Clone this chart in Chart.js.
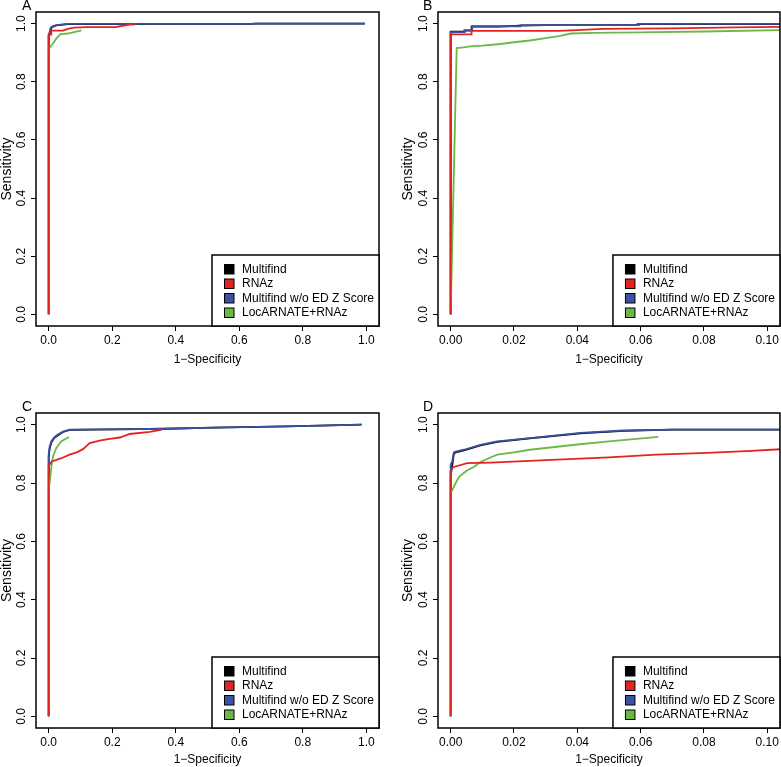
<!DOCTYPE html>
<html>
<head>
<meta charset="utf-8">
<script src="https://cdn.jsdelivr.net/npm/chart.js@4.4.0/dist/chart.umd.min.js"></script>
<style>
  body { margin: 0; background: #fff; width: 781px; height: 767px; position: relative; overflow: hidden; }
  canvas { position: absolute; }
</style>
</head>
<body>
<canvas id="chartA" width="390" height="380" style="left:0;top:0"></canvas>
<canvas id="chartB" width="391" height="380" style="left:390px;top:0"></canvas>
<canvas id="chartC" width="390" height="387" style="left:0;top:380px"></canvas>
<canvas id="chartD" width="391" height="387" style="left:390px;top:380px"></canvas>
<script>
// legend names + colours (legend order)
var seriesNames = ["Multifind", "RNAz", "Multifind w/o ED Z Score", "LocARNATE+RNAz"];
var seriesColors = ["#000000", "#e3231f", "#3a52a0", "#6bb846"];

var xTicksFull = [0, 0.2, 0.4, 0.6, 0.8, 1.0];
var xLabelsFull = ["0.0", "0.2", "0.4", "0.6", "0.8", "1.0"];
var xTicksZoom = [0, 0.02, 0.04, 0.06, 0.08, 0.10];
var xLabelsZoom = ["0.00", "0.02", "0.04", "0.06", "0.08", "0.10"];
var yTicks = [0, 0.2, 0.4, 0.6, 0.8, 1.0];
var yLabels = ["0.0", "0.2", "0.4", "0.6", "0.8", "1.0"];

// [1-specificity, sensitivity]
// panel A
var multifindA = [[0,0],[0,0.958],[0.003,0.966],[0.006,0.98],[0.01,0.988],[0.024,0.994],[0.06,0.998],[0.64,0.999],[0.65,1.0],[0.995,1.0]];
var rnazA = [[0,0],[0,0.962],[0.008,0.962],[0.008,0.976],[0.045,0.976],[0.06,0.982],[0.08,0.986],[0.12,0.988],[0.21,0.988],[0.255,0.997],[0.27,0.997]];
var noZA = [[0,0],[0,0.96],[0.003,0.97],[0.006,0.985],[0.01,0.99],[0.024,0.995],[0.06,0.999],[0.64,0.999],[0.65,1.0],[0.995,1.0]];
var locA = [[0,0],[0,0.918],[0.004,0.918],[0.012,0.93],[0.025,0.95],[0.037,0.964],[0.06,0.966],[0.103,0.977]];
// panel B
var multifindB = [[0,0],[0,0.972],[0.0044,0.972],[0.0044,0.976],[0.0066,0.976],[0.0066,0.99],[0.015,0.99],[0.022,0.993],[0.03,0.995],[0.059,0.995],[0.06,0.998],[0.106,0.998]];
var rnazB = [[0,0],[0,0.963],[0.0066,0.963],[0.0066,0.975],[0.034,0.975],[0.04,0.978],[0.048,0.982],[0.07,0.984],[0.09,0.987],[0.106,0.989]];
var noZB = [[0,0],[0,0.971],[0.0044,0.971],[0.0044,0.978],[0.0068,0.978],[0.0068,0.991],[0.022,0.991],[0.022,0.995],[0.059,0.995],[0.059,0.999],[0.106,0.999]];
var locB = [[0,0],[0.0019,0.916],[0.004,0.918],[0.0063,0.922],[0.01,0.924],[0.0157,0.93],[0.02,0.936],[0.025,0.942],[0.03,0.95],[0.0346,0.958],[0.038,0.966],[0.045,0.968],[0.06,0.97],[0.08,0.973],[0.106,0.978]];
// panel C
var multifindC = [[0,0],[0,0.89],[0.003,0.918],[0.0085,0.94],[0.018,0.955],[0.029,0.964],[0.045,0.975],[0.066,0.982],[0.2,0.984],[0.37,0.986],[0.52,0.99],[0.75,0.994],[0.985,1.0]];
var rnazC = [[0,0],[0,0.859],[0.01,0.874],[0.04,0.885],[0.066,0.897],[0.09,0.906],[0.108,0.916],[0.129,0.937],[0.16,0.945],[0.192,0.951],[0.224,0.956],[0.255,0.968],[0.318,0.975],[0.357,0.983]];
var noZC = [[0,0],[0,0.9],[0.003,0.925],[0.0085,0.943],[0.018,0.957],[0.029,0.966],[0.045,0.976],[0.066,0.983],[0.2,0.984],[0.37,0.986],[0.52,0.99],[0.75,0.994],[0.985,1.0]];
var locC = [[0,0],[0,0.777],[0.005,0.822],[0.009,0.86],[0.0136,0.891],[0.024,0.92],[0.04,0.943],[0.064,0.958]];
// panel D
var multifindD = [[0,0],[0,0.84],[0.0005,0.86],[0.001,0.9],[0.0016,0.905],[0.0042,0.912],[0.0094,0.929],[0.0147,0.941],[0.025,0.953],[0.041,0.97],[0.0546,0.979],[0.07,0.983],[0.106,0.983]];
var rnazD = [[0,0],[0,0.828],[0.0005,0.851],[0.001,0.855],[0.0052,0.868],[0.0126,0.87],[0.0336,0.88],[0.05,0.888],[0.065,0.897],[0.081,0.903],[0.095,0.91],[0.106,0.917]];
var noZD = [[0,0],[0,0.863],[0.0005,0.874],[0.001,0.905],[0.0016,0.908],[0.0042,0.914],[0.0094,0.931],[0.0147,0.943],[0.025,0.954],[0.041,0.972],[0.0546,0.98],[0.07,0.983],[0.106,0.983]];
var locD = [[0,0],[0,0.765],[0.0016,0.8],[0.0026,0.82],[0.005,0.842],[0.0073,0.855],[0.0094,0.872],[0.012,0.885],[0.0147,0.897],[0.02,0.905],[0.025,0.914],[0.03,0.92],[0.04,0.932],[0.05,0.943],[0.0656,0.958]];

var FONT = '"Liberation Sans", Arial, sans-serif';

// R style box, panel letter and bottom-right legend
var rFrame = {
  id: 'rFrame',
  afterDraw: function(chart, args, opts) {
    var ctx = chart.ctx, a = chart.chartArea;
    ctx.save();
    ctx.strokeStyle = '#000';
    ctx.lineWidth = 1.5;
    ctx.strokeRect(a.left, a.top, a.right - a.left, a.bottom - a.top);

    ctx.fillStyle = '#000';
    ctx.font = '14px ' + FONT;
    ctx.textAlign = 'left';
    ctx.textBaseline = 'alphabetic';
    ctx.fillText(opts.letter, opts.letterX, opts.letterY);

    var w = 167, h = 71;
    var lx = a.right - w, ly = a.bottom - h;
    ctx.fillStyle = '#fff';
    ctx.fillRect(lx, ly, w, h);
    ctx.strokeRect(lx, ly, w, h);
    ctx.font = '12px ' + FONT;
    ctx.textBaseline = 'middle';
    ctx.lineWidth = 1;
    for (var i = 0; i < seriesNames.length; i++) {
      var cy = ly + 14 + i * 14.5;
      ctx.fillStyle = seriesColors[i];
      ctx.fillRect(lx + 12.5, cy - 4.5, 9.5, 9.5);
      ctx.strokeRect(lx + 12.5, cy - 4.5, 9.5, 9.5);
      ctx.fillStyle = '#000';
      ctx.fillText(seriesNames[i], lx + 30, cy + 0.5);
    }
    ctx.restore();
  }
};

function toXY(arr) {
  return arr.map(function(p) { return { x: p[0], y: p[1] }; });
}

function makePanel(id, p) {
  // draw order: black, blue, green, red on top
  var sets = [
    { label: seriesNames[0], data: toXY(p.series[0]), borderColor: seriesColors[0] },
    { label: seriesNames[2], data: toXY(p.series[2]), borderColor: seriesColors[2] },
    { label: seriesNames[3], data: toXY(p.series[3]), borderColor: seriesColors[3] },
    { label: seriesNames[1], data: toXY(p.series[1]), borderColor: seriesColors[1] }
  ];
  sets.forEach(function(s) {
    s.borderWidth = 1.8;
    s.pointRadius = 0;
    s.tension = 0;
    s.fill = false;
  });
  sets.reverse();

  return new Chart(document.getElementById(id), {
    type: 'line',
    data: { datasets: sets },
    options: {
      responsive: false,
      animation: false,
      devicePixelRatio: 1,
      layout: { padding: { left: 0, top: p.top, right: p.right, bottom: 0 } },
      plugins: {
        legend: { display: false },
        tooltip: { enabled: false },
        rFrame: { letter: p.letter, letterX: p.letterX, letterY: p.letterY }
      },
      scales: {
        x: {
          type: 'linear',
          min: p.xMin, max: p.xMax,
          afterBuildTicks: function(s) { s.ticks = p.xTicks.map(function(v) { return { value: v }; }); },
          afterFit: function(s) { s.height = p.xHeight; },
          ticks: {
            color: '#000', font: { family: FONT, size: 12 }, padding: 2, maxRotation: 0,
            callback: function(v, i) { return p.xLabels[i]; }
          },
          grid: { drawOnChartArea: false, drawTicks: true, tickLength: 5, color: '#000' },
          border: { display: false },
          title: { display: true, text: '1\u2212Specificity', color: '#000', font: { family: FONT, size: 12 }, padding: { top: 0, bottom: p.xTitlePad } }
        },
        y: {
          type: 'linear',
          min: -0.04, max: 1.04,
          afterBuildTicks: function(s) { s.ticks = yTicks.map(function(v) { return { value: v }; }); },
          afterFit: function(s) { s.width = p.yWidth; },
          ticks: {
            color: '#000', font: { family: FONT, size: 12 }, padding: 1,
            minRotation: 90, maxRotation: 90, crossAlign: 'center',
            callback: function(v, i) { return yLabels[i]; }
          },
          grid: { drawOnChartArea: false, drawTicks: true, tickLength: 5, color: '#000' },
          border: { display: false },
          title: { display: true, text: 'Sensitivity', color: '#000', font: { family: FONT, size: 14, lineHeight: 1 }, padding: { top: p.yTitlePad, bottom: 0 } }
        }
      }
    },
    plugins: [rFrame]
  });
}

makePanel('chartA', {
  letter: 'A', letterX: 22, letterY: 10, top: 12, right: 11, xHeight: 54, yWidth: 36,
  xMin: -0.04, xMax: 1.04, xTicks: xTicksFull, xLabels: xLabelsFull, xTitlePad: 13, yTitlePad: 0,
  series: [multifindA, rnazA, noZA, locA]
});
makePanel('chartB', {
  letter: 'B', letterX: 33, letterY: 10, top: 12, right: 1, xHeight: 54, yWidth: 48,
  xMin: -0.004, xMax: 0.104, xTicks: xTicksZoom, xLabels: xLabelsZoom, xTitlePad: 13, yTitlePad: 11,
  series: [multifindB, rnazB, noZB, locB]
});
makePanel('chartC', {
  letter: 'C', letterX: 22, letterY: 31, top: 33, right: 11, xHeight: 39, yWidth: 36,
  xMin: -0.04, xMax: 1.04, xTicks: xTicksFull, xLabels: xLabelsFull, xTitlePad: 0, yTitlePad: 0,
  series: [multifindC, rnazC, noZC, locC]
});
makePanel('chartD', {
  letter: 'D', letterX: 33, letterY: 31, top: 33, right: 1, xHeight: 39, yWidth: 48,
  xMin: -0.004, xMax: 0.104, xTicks: xTicksZoom, xLabels: xLabelsZoom, xTitlePad: 0, yTitlePad: 11,
  series: [multifindD, rnazD, noZD, locD]
});
</script>
</body>
</html>
